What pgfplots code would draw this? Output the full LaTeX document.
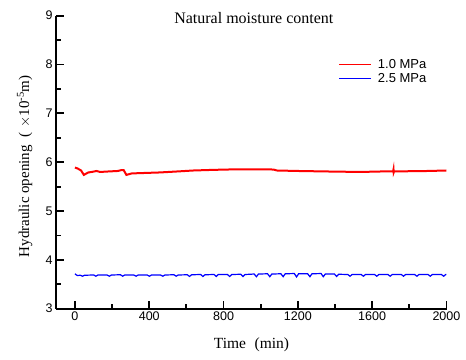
\documentclass[border=0pt]{standalone}
\usepackage{pgfplots}
\pgfplotsset{compat=1.18}
\usepackage{fontspec}
\setmainfont{Liberation Serif}
\newfontfamily\arial{Liberation Sans}
\pgfplotsset{
  every axis/.append style={
    axis line style={line width=2.2pt, -},
    tick style={line width=1.8pt, black},
    major tick length=8pt, minor tick length=4.5pt,
  },
}
\begin{document}
\begin{tikzpicture}
\begin{axis}[
  name=ax,
  scale only axis,
  width=391pt, height=293pt,
  xmin=-102, xmax=2003,
  ymin=3, ymax=9,
  axis lines=left,
  axis line style={line width=2.2pt, -},
  tick style={line width=1.8pt, black},
  tick align=inside,
  major tick length=8pt, minor tick length=4.5pt,
  xtick={0,400,800,1200,1600,2000},
  minor xtick={200,600,1000,1400,1800},
  ytick={3,4,5,6,7,8,9},
  minor ytick={3.5,4.5,5.5,6.5,7.5,8.5},
  /pgf/number format/assume math mode=true,
  /pgf/number format/set thousands separator={},
  ticklabel style={font=\arial\fontsize{12.5}{14}\selectfont},
  xlabel={Time\hspace{0.55em}(min)},
  ylabel={Hydraulic opening\hspace{0.5em}(\hspace{0.35em}$\times$10\textsuperscript{-5}m)},
  xlabel style={font=\fontsize{15.5}{17}\selectfont, at={(axis description cs:0.5,-0.123)}, anchor=center},
  ylabel style={font=\fontsize{15}{17}\selectfont, at={(axis description cs:-0.08,0.486)}, anchor=center},
  title={Natural moisture content},
  title style={font=\fontsize{16}{18}\selectfont, at={(axis description cs:0.506,0.973)}, anchor=center},
  legend style={draw=none, fill=none, at={(axis description cs:0.72,0.863)}, anchor=north west,
    font=\arial\fontsize{13}{15}\selectfont, row sep=0pt, column sep=4pt, inner sep=1pt},
  legend cell align=left,
  legend image code/.code={\draw[#1] (0pt,0pt) -- (32pt,0pt);},
  legend image post style={line width=1.2pt},
  clip=false,
]
\addplot[red, line width=2pt] coordinates {
(0,5.89) (15,5.87) (33,5.83) (48,5.74) (72,5.79) (90,5.80) (117,5.82) (135,5.80) (180,5.81) (230,5.82)
(252,5.84) (262,5.84) (277,5.74) (306,5.77) (380,5.78) (458,5.79) (550,5.81) (638,5.83) (720,5.84)
(817,5.85) (950,5.855) (1069,5.85) (1087,5.83) (1200,5.82) (1355,5.81) (1535,5.80) (1650,5.81)
(1713,5.81) (1715,5.85) (1716,5.79) (1718,5.81) (1800,5.815) (1900,5.82) (2000,5.83)
};
\addlegendentry{1.0 MPa}
\addplot[blue, line width=1.2pt] coordinates {
(0,3.715) (8,3.69) (14,3.68) (29,3.685) (41,3.665) (52,3.685)
(101,3.69) (113,3.665) (124,3.69)
(173,3.69) (185,3.665) (196,3.69)
(245,3.695) (257,3.665) (268,3.69)
(317,3.69) (329,3.665) (340,3.69)
(389,3.69) (401,3.665) (412,3.69)
(461,3.69) (473,3.665) (484,3.69)
(533,3.695) (545,3.665) (556,3.69)
(605,3.695) (617,3.66) (628,3.695)
(677,3.70) (689,3.66) (700,3.695)
(749,3.70) (761,3.66) (772,3.70)
(821,3.70) (833,3.66) (844,3.70)
(893,3.705) (905,3.66) (916,3.70)
(965,3.71) (977,3.655) (988,3.71)
(1037,3.715) (1049,3.655) (1060,3.71)
(1109,3.715) (1121,3.655) (1132,3.715)
(1181,3.72) (1193,3.65) (1204,3.715)
(1253,3.715) (1265,3.655) (1276,3.715)
(1325,3.72) (1337,3.655) (1348,3.71)
(1397,3.71) (1409,3.66) (1420,3.705)
(1469,3.70) (1481,3.665) (1492,3.70)
(1541,3.70) (1553,3.665) (1564,3.70)
(1613,3.70) (1625,3.665) (1636,3.70)
(1685,3.70) (1697,3.665) (1708,3.70)
(1757,3.70) (1769,3.665) (1780,3.70)
(1829,3.70) (1841,3.665) (1852,3.70)
(1901,3.70) (1913,3.665) (1924,3.70)
(1973,3.70) (1985,3.665) (1996,3.70) (2000,3.70)
};
\addlegendentry{2.5 MPa}
\end{axis}
\pgfresetboundingbox
\path ([shift={(-56pt,-51pt)}]ax.south west) rectangle ([shift={(19pt,15.7pt)}]ax.north east);
\end{tikzpicture}
\end{document}
